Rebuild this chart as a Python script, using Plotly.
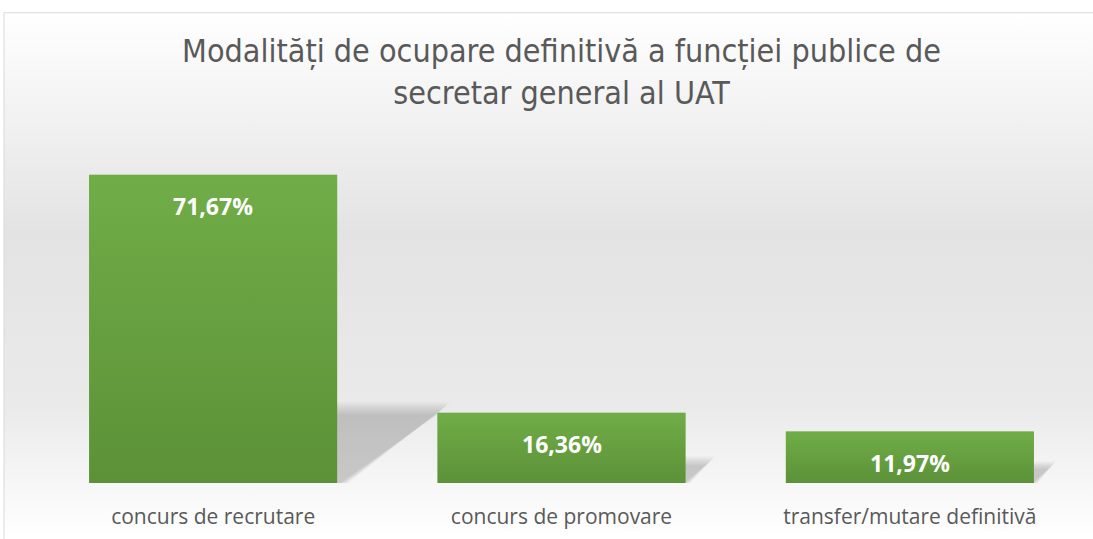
import plotly.graph_objects as go
import base64

categories = ["concurs de recrutare", "concurs de promovare", "transfer/mutare definitivă"]
values = [71.67, 16.36, 11.97]
labels = [f"{v:.2f}".replace(".", ",") + "%" for v in values]

W, H = 1093, 539
ml, mr, mt, mb = 39, 9, 139, 54
pw, ph = W - ml - mr, H - mt - mb
YMAX = 80
BARGAP = 0.288
HALF = (1 - BARGAP) / 2
PX_X = pw / len(categories)   # px per category unit
PX_Y = ph / YMAX              # px per y unit


def b64(svg):
    return "data:image/svg+xml;base64," + base64.b64encode(svg.encode()).decode()


def grad_uri(stops):
    s = "".join(f'<stop offset="{o}" stop-color="{c}"/>' for o, c in stops)
    return b64('<svg xmlns="http://www.w3.org/2000/svg" width="100" height="100" preserveAspectRatio="none">'
               f'<defs><linearGradient id="g" x1="0" y1="0" x2="0" y2="1">{s}</linearGradient></defs>'
               '<rect width="100" height="100" fill="url(#g)"/></svg>')


bg = grad_uri([(0, "#ffffff"), (0.42, "#e3e3e3"), (0.75, "#eaeaea"), (1, "#ffffff")])
bar_grad = grad_uri([(0, "#70ad47"), (1, "#5c9138")])

fig = go.Figure()
fig.add_trace(go.Bar(x=list(range(len(categories))), y=values,
                     marker=dict(color="#67a23f", line=dict(width=0)), hoverinfo="skip"))

# soft perspective shadows (behind bars), built from stacked translucent polygons
pad = 14
for i, v in enumerate(values):
    hpx = v * PX_Y
    ext = 1.48 * v
    top = 0.22 * hpx + 6
    ws, hs = ext + 2 * pad, top + pad
    polys = []
    for g in range(-5, 9, 2):
        gg = g * min(1.0, 0.35 + ext / 60)
        pts = (f"{pad - 2},{hs} {pad - 2},{pad - gg} {pad + ext + gg},{pad - gg} "
               f"{pad + 0.06 * ext + gg * 0.7},{hs}")
        polys.append(f'<polygon points="{pts}" fill="#000" fill-opacity="0.028"/>')
    svg = (f'<svg xmlns="http://www.w3.org/2000/svg" width="{ws:.1f}" height="{hs:.1f}" '
           f'viewBox="0 0 {ws:.1f} {hs:.1f}" preserveAspectRatio="none">' + "".join(polys) + '</svg>')
    fig.add_layout_image(dict(source=b64(svg), xref="x", yref="y",
                              x=i + HALF - pad / PX_X, y=hs / PX_Y,
                              sizex=ws / PX_X, sizey=hs / PX_Y, sizing="stretch",
                              xanchor="left", yanchor="top", layer="below"))

# gradient overlays on bars
for i, v in enumerate(values):
    fig.add_layout_image(dict(source=bar_grad, xref="x", yref="y", x=i - HALF, y=v,
                              sizex=2 * HALF, sizey=v, sizing="stretch",
                              xanchor="left", yanchor="top", layer="above"))

for i, (v, t) in enumerate(zip(values, labels)):
    fig.add_annotation(x=i, y=v, text=f"<b>{t}</b>", showarrow=False, yanchor="middle", yshift=-31,
                       font=dict(family="Open Sans, Lato, sans-serif", size=23, color="white"))

fig.add_layout_image(dict(source=bg, xref="paper", yref="paper",
                          x=(4 - ml) / pw, y=(H - mb - 12) / ph,
                          sizex=(W - 4) / pw, sizey=(H - 12) / ph,
                          sizing="stretch", xanchor="left", yanchor="top", layer="below"))
fig.add_shape(type="rect", xref="paper", yref="paper",
              x0=(4 - ml) / pw, x1=(W + 5 - ml) / pw, y0=(-mb - 5) / ph, y1=(H - mb - 12) / ph,
              line=dict(color="#d9d9d9", width=1), fillcolor="rgba(0,0,0,0)", layer="above")

fig.update_layout(
    width=W, height=H,
    margin=dict(l=ml, r=mr, t=mt, b=mb),
    paper_bgcolor="white", plot_bgcolor="rgba(0,0,0,0)",
    bargap=BARGAP, showlegend=False,
    title=dict(text="Modalități de ocupare definitivă a funcției publice de<br>secretar general al UAT",
               x=0.5, xref="paper", y=(H - 62) / H, yanchor="middle",
               font=dict(family="DejaVu Sans Condensed, Liberation Sans Narrow, sans-serif", size=32,
                         color="#595959")),
    xaxis=dict(showgrid=False, showline=False, zeroline=False, ticks="", ticklabelstandoff=19,
               tickmode="array", tickvals=list(range(len(categories))), ticktext=categories,
               range=[-0.5, len(categories) - 0.5], fixedrange=True,
               tickfont=dict(family="Open Sans, Lato, sans-serif", size=21, color="#595959")),
    yaxis=dict(range=[0, YMAX], visible=False, fixedrange=True),
)
fig.write_html("out.html", post_script="document.body.style.margin='0';",
               config={"displayModeBar": False})
